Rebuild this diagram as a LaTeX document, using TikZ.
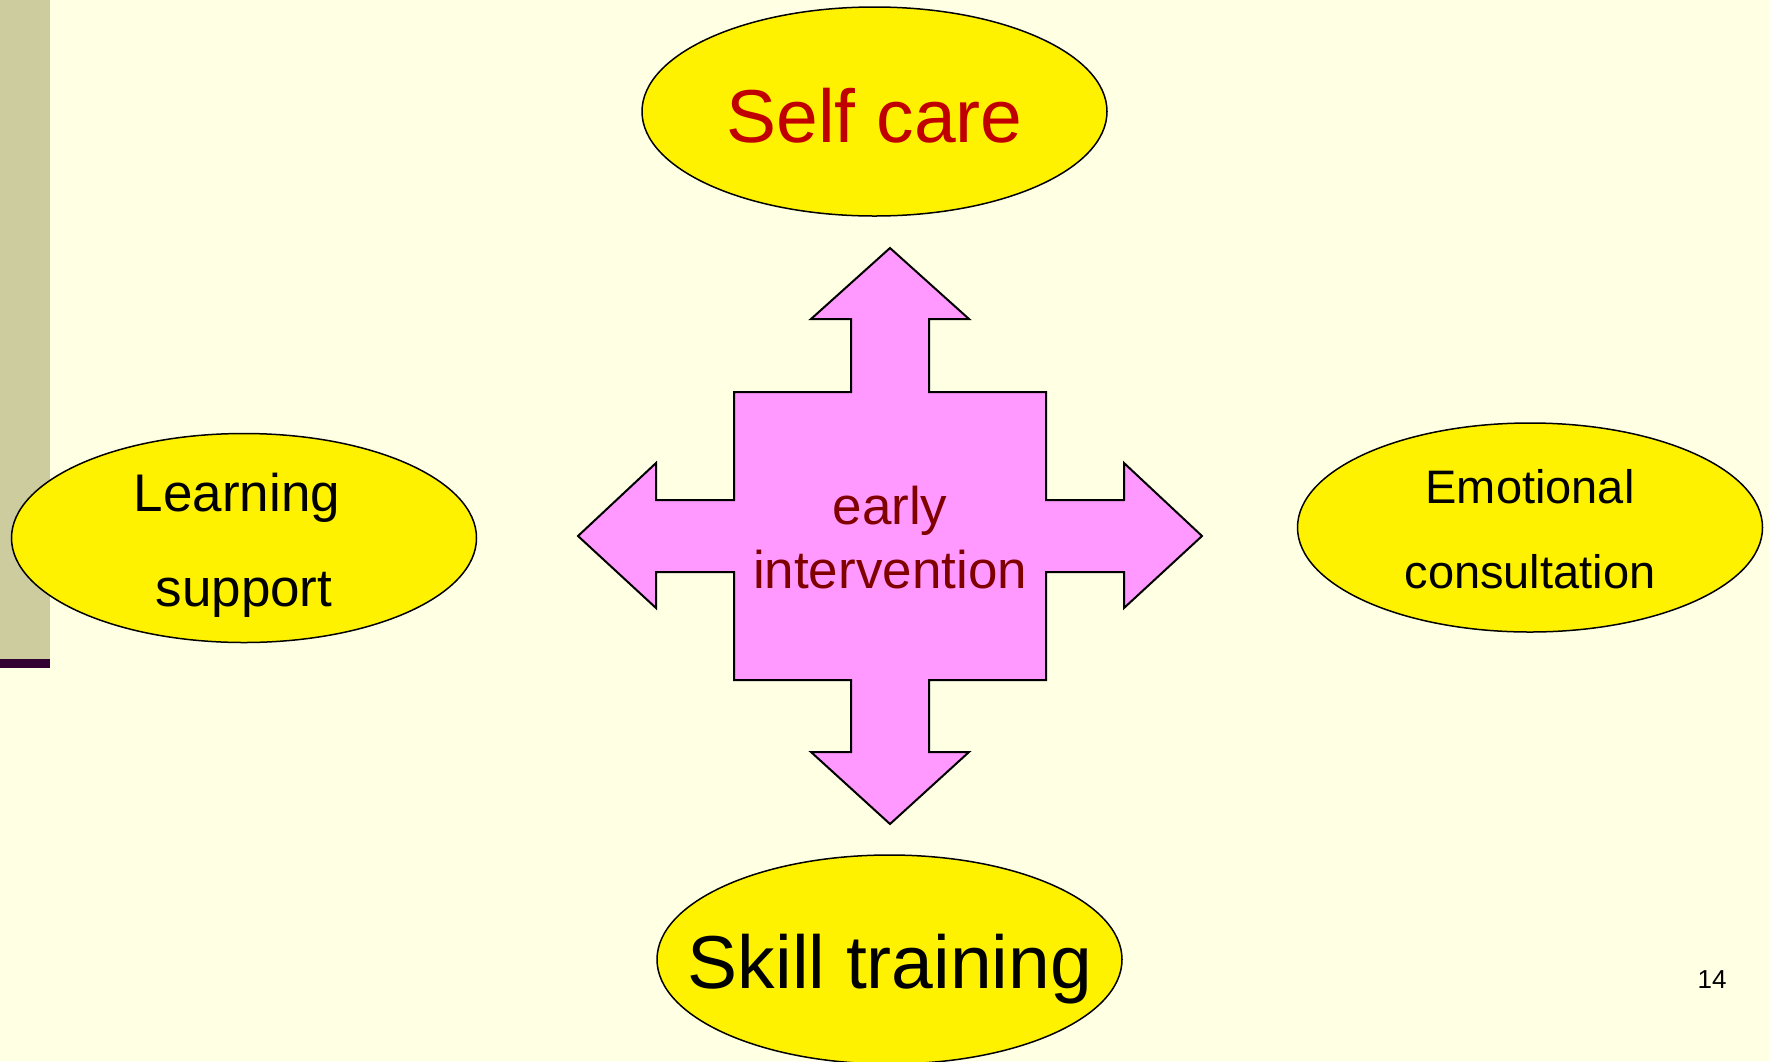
\documentclass[tikz,border=0pt]{standalone}
\usepackage{fontspec}
\setmainfont{Liberation Sans}
\usetikzlibrary{shapes.geometric}
\definecolor{bgcol}{RGB}{255,255,228}
\definecolor{barcol}{RGB}{204,204,158}
\definecolor{linecol}{RGB}{51,0,51}
\definecolor{pinkcol}{RGB}{255,153,255}
\definecolor{redtext}{RGB}{192,0,0}
\definecolor{darkred}{RGB}{128,0,0}
\tikzset{
  oval/.style={ellipse, draw=black, line width=1.5pt, fill=yellow, inner sep=0pt,
    minimum width=465pt, minimum height=209pt},
  lbl/.style={anchor=base, inner sep=0pt},
  crossshape/.style={draw=black, line width=2pt, fill=pinkcol, line join=miter}
}
\begin{document}
\begin{tikzpicture}[x=1pt, y=-1pt]
\useasboundingbox (0,0) rectangle (1769,1061);
\fill[bgcol] (0,0) rectangle (1769,1061);
\fill[barcol] (0,0) rectangle (50,659);
\fill[linecol] (0,659) rectangle (50,668);

% ellipses
\node[oval] (selfcare) at (874.5,111.5) {};
\node[oval] (learning) at (244,538) {};
\node[oval] (emotional) at (1530,527.5) {};
\node[oval] (skill) at (889.5,959.5) {};

% central cross
\draw[crossshape] (890,248) -- (969,319) -- (929,319) -- (929,392) -- (1046,392) -- (1046,500)
  -- (1124,500) -- (1124,463) -- (1202,536) -- (1124,608) -- (1124,572) -- (1046,572)
  -- (1046,680) -- (929,680) -- (929,752) -- (969,752) -- (890,824) -- (811,752)
  -- (851,752) -- (851,680) -- (734,680) -- (734,572) -- (656,572) -- (656,608)
  -- (578,536) -- (656,463) -- (656,500) -- (734,500) -- (734,392) -- (851,392)
  -- (851,319) -- (811,319) -- cycle;

% texts
\node[lbl, text=redtext, font=\fontsize{75}{90}\selectfont] (t-self) at (874.5,142) {Self care};
\node[lbl, font=\fontsize{75}{90}\selectfont] (t-skill) at (890,988) {Skill training};
\node[lbl, font=\fontsize{53}{64}\selectfont] (t-learn) at (237,511) {Learning};
\node[lbl, font=\fontsize{53}{64}\selectfont] (t-support) at (244,606) {support};
\node[lbl, font=\fontsize{47}{56}\selectfont] (t-emo) at (1530,503) {Emotional};
\node[lbl, font=\fontsize{47}{56}\selectfont] (t-cons) at (1530,588) {consultation};
\node[lbl, text=darkred, font=\fontsize{53}{64}\selectfont] (t-early) at (890,524) {early};
\node[lbl, text=darkred, font=\fontsize{53}{64}\selectfont] (t-inter) at (890,588) {intervention};
\node[lbl, font=\fontsize{26}{31}\selectfont] (t-page) at (1712,988) {14};
\end{tikzpicture}
\end{document}
